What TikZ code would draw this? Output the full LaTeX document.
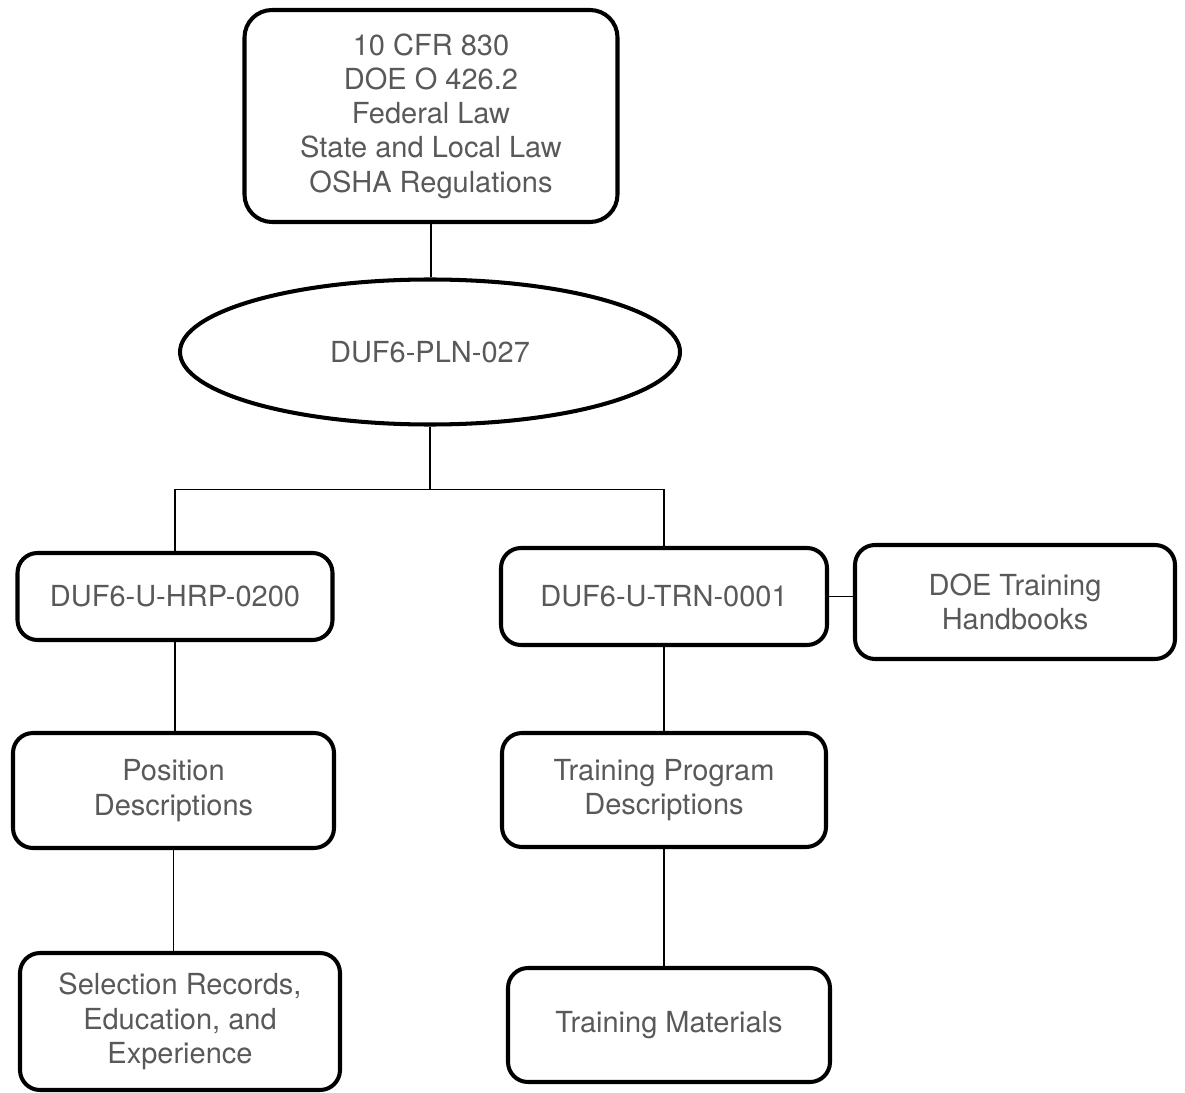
\documentclass[tikz,border=0pt]{standalone}
\usepackage{fontspec}
\setmainfont{TeX Gyre Heros}
\usepackage{tikz}
\usetikzlibrary{shapes.geometric, positioning, calc}
\definecolor{txtgray}{RGB}{89,89,89}
\tikzstyle{docbox} = [rectangle, rounded corners=0.4cm, draw=black, line width=2.3pt, align=center, text=txtgray, font=\fontsize{16.5}{19.5}\selectfont]
\tikzstyle{plan} = [ellipse, draw=black, line width=2.3pt, text=txtgray, font=\fontsize{16.5}{19.5}\selectfont, inner sep=0pt]
\tikzstyle{link} = [line width=1.1pt]

\begin{document}
\begin{tikzpicture}
        \useasboundingbox (0,0) rectangle (23.7,-21.86);

        \node[docbox, rounded corners=0.55cm, minimum width=7.46cm, minimum height=4.24cm] (laws) at (8.62,-2.32) {10 CFR 830\\DOE O 426.2\\Federal Law\\State and Local Law\\OSHA Regulations};
        \node[plan, minimum width=10cm, minimum height=2.9cm] (pln) at (8.6,-7.04) {DUF6-PLN-027};

        \node[docbox, minimum width=6.3cm, minimum height=1.74cm] (hrp) at (3.5,-11.93) {DUF6-U-HRP-0200};
        \node[docbox, minimum width=6.52cm, minimum height=1.94cm] (trn) at (13.28,-11.93) {DUF6-U-TRN-0001};
        \node[docbox, minimum width=6.4cm, minimum height=2.28cm] (hbk) at (20.3,-12.04) {DOE Training\\Handbooks};

        \node[docbox, minimum width=6.42cm, minimum height=2.3cm] (posd) at (3.47,-15.81) {Position\\Descriptions};
        \node[docbox, minimum width=6.4cm, minimum height=2.74cm] (sel) at (3.6,-20.43) {Selection Records,\\Education, and\\Experience};

        \node[docbox, minimum width=6.48cm, minimum height=2.28cm] (tpd) at (13.28,-15.8) {Training Program\\Descriptions};
        \node[docbox, minimum width=6.44cm, minimum height=2.28cm] (tmat) at (13.38,-20.5) {Training Materials};

        \coordinate (split) at ($(pln.south)+(0,-1.26)$);

        \draw[link] (laws.south) -- (pln.north -| laws.south);
        \draw[link] (pln.south) -- (split);
        \draw[link] (split) -| (hrp.north);
        \draw[link] (split) -| (trn.north);
        \draw[link] (trn.east) -- (trn.east -| hbk.west);
        \draw[link] (hrp.south) -- (posd.north -| hrp.south);
        \draw[link] (posd.south) -- (sel.north -| posd.south);
        \draw[link] (trn.south) -- (tpd.north);
        \draw[link] (tpd.south) -- (tmat.north -| tpd.south);
    \end{tikzpicture}
\end{document}
